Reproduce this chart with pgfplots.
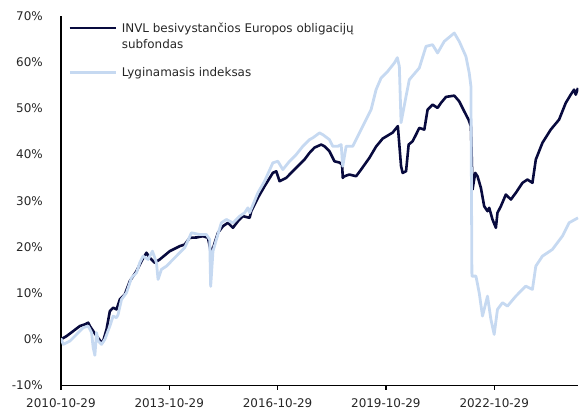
\documentclass[border=0pt]{standalone}
\usepackage{pgfplots}
\pgfplotsset{compat=1.18}
\usepackage{pgfplotstable}
\usepackage{fontspec}
\setmainfont{DejaVu Sans}
\definecolor{fund}{RGB}{8,10,62}
\definecolor{bench}{RGB}{198,217,241}

\pgfplotstableread{
t v
0.000 0.00
0.158 0.71
0.340 1.79
0.525 2.88
0.664 3.24
0.755 3.61
0.802 2.88
0.987 0.71
1.125 -0.65
1.169 -0.37
1.263 2.16
1.355 6.12
1.446 6.85
1.540 6.49
1.631 8.65
1.769 9.73
1.908 12.61
2.093 14.77
2.231 16.93
2.369 18.75
2.460 17.66
2.599 16.58
2.737 17.30
3.014 19.09
3.290 20.17
3.428 20.54
3.567 21.99
3.752 22.05
3.934 22.34
4.072 21.99
4.166 18.38
4.258 20.91
4.349 23.07
4.487 24.50
4.625 25.23
4.764 24.15
4.902 25.58
5.040 26.66
5.225 26.31
5.272 27.74
5.455 30.64
5.640 33.15
5.869 36.04
5.964 36.39
6.055 34.23
6.240 34.96
6.422 36.39
6.608 37.84
6.746 38.92
6.884 40.37
7.022 41.51
7.208 42.16
7.299 41.79
7.437 40.71
7.575 38.55
7.714 38.27
7.788 37.84
7.805 34.96
7.852 35.31
7.990 35.68
8.175 35.31
8.313 36.76
8.543 39.29
8.728 41.73
8.911 43.46
9.187 44.76
9.331 46.16
9.420 37.47
9.464 36.04
9.558 36.39
9.630 42.16
9.740 42.88
9.834 44.32
9.925 45.77
10.064 45.41
10.155 49.73
10.293 50.81
10.431 50.10
10.525 51.18
10.664 52.48
10.893 52.76
11.031 51.52
11.169 49.36
11.288 47.57
11.355 46.12
11.399 32.43
11.474 36.04
11.537 35.31
11.631 32.80
11.722 28.82
11.814 27.74
11.861 28.48
11.952 25.95
12.046 24.15
12.090 27.39
12.184 28.82
12.322 31.35
12.461 30.27
12.599 31.72
12.782 33.88
12.919 34.59
13.058 33.88
13.152 38.92
13.334 42.53
13.566 45.41
13.796 47.57
13.981 51.18
14.119 52.97
14.211 54.05
14.258 52.97
14.321 54.42
}\fund

\pgfplotstableread{
t v
0.000 0.22
0.064 -1.08
0.249 -0.37
0.434 1.08
0.617 2.53
0.755 2.88
0.849 1.45
0.893 -1.79
0.940 -3.46
0.987 1.45
1.031 -0.37
1.125 -1.08
1.216 0.00
1.355 2.88
1.446 5.04
1.540 4.69
1.584 5.41
1.678 8.65
1.816 10.10
1.955 13.34
2.093 14.42
2.184 16.58
2.275 18.01
2.414 17.30
2.535 19.09
2.646 16.58
2.690 12.97
2.784 15.14
2.922 15.85
3.105 17.30
3.290 18.75
3.428 19.83
3.614 23.07
3.843 22.70
4.028 22.70
4.119 21.62
4.147 11.46
4.211 19.09
4.305 21.62
4.443 25.23
4.581 25.95
4.764 25.23
4.949 26.66
5.087 27.39
5.178 28.48
5.225 27.39
5.455 31.72
5.640 34.23
5.869 38.21
6.008 38.55
6.146 36.76
6.331 38.55
6.516 40.00
6.699 41.79
6.884 43.24
6.975 43.61
7.161 44.69
7.252 44.32
7.437 43.24
7.528 41.79
7.667 41.79
7.761 42.16
7.805 37.47
7.899 41.79
8.081 41.79
8.267 44.69
8.452 47.57
8.590 49.73
8.728 54.05
8.867 56.58
9.049 58.01
9.234 59.83
9.317 60.97
9.372 59.09
9.420 46.92
9.558 52.61
9.649 56.22
9.925 58.75
10.111 63.42
10.293 63.78
10.431 61.99
10.616 64.50
10.893 66.31
11.031 64.50
11.216 61.25
11.308 57.66
11.355 54.77
11.382 13.69
11.493 13.69
11.584 10.10
11.675 5.04
11.814 9.36
11.908 4.32
11.999 1.08
12.090 6.49
12.229 7.94
12.367 7.20
12.599 9.36
12.875 11.52
13.058 10.81
13.152 15.85
13.334 18.01
13.611 19.46
13.887 22.34
14.072 25.23
14.321 26.31
}\bench

\begin{document}
\fontsize{12}{17}\selectfont
\begin{tikzpicture}
\begin{axis}[
  scale only axis, width=518bp, height=370bp,
  xmin=0, xmax=14.33, ymin=-10, ymax=70,
  axis x line*=bottom, axis y line*=left,
  axis line style={black, line width=1.3bp},
  xtick={0,3,6,9,12},
  xticklabels={2010-10-29,2013-10-29,2016-10-29,2019-10-29,2022-10-29},
  ytick={-10,0,10,20,30,40,50,60,70},
  yticklabels={-10\%,0\%,10\%,20\%,30\%,40\%,50\%,60\%,70\%},
  tick align=outside, major tick length=4bp,
  ytick style={draw=none},
  xtick style={black, line width=1.3bp},
  tick label style={font=\fontsize{12}{14}\selectfont, text=black!85},
  yticklabel style={xshift=-10bp},
  xticklabel style={yshift=-5bp},
  legend style={at={(0,1)}, anchor=north west, draw=none, fill=none,
    font=\fontsize{12}{17}\selectfont, text=black!85,
    cells={anchor=base west}, row sep=30bp,
    column sep=2bp, xshift=4bp, yshift=0bp},
  legend image code/.code={\draw[#1] (0bp,4bp) -- (47bp,4bp);},
]
\addplot[fund, line width=2.6bp, line join=round] table[x=t, y=v] {\fund};
\addlegendentry{\begin{tabular}[t]{@{}l@{}}INVL besivystančios Europos obligacijų\\subfondas\end{tabular}}
\addplot[bench, line width=2.8bp, line join=round] table[x=t, y=v] {\bench};
\addlegendentry{Lyginamasis indeksas}
\end{axis}
\path (current axis.south west) ++(-61bp,-25bp) coordinate (bbA);
\path (current axis.north east) ++(0bp,16bp) coordinate (bbB);
\path (bbA) rectangle (bbB);
\end{tikzpicture}
\end{document}
